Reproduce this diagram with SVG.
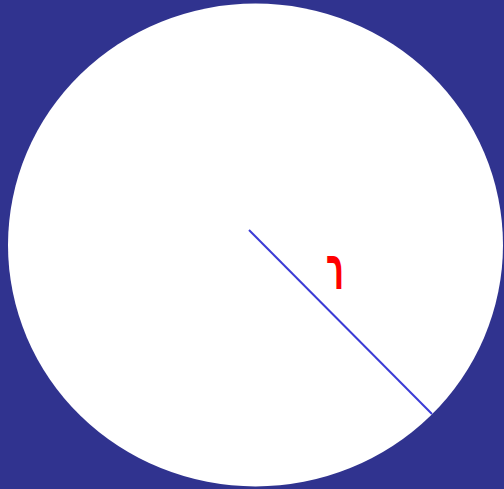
<svg xmlns="http://www.w3.org/2000/svg" width="504" height="489" viewBox="0 0 504 489">
<style>
.bg{fill:#30338f}
.disc{fill:#ffffff}
.radius{stroke:#3b3bd6;stroke-width:2;fill:none}
.lbl{fill:#ff0000;font-family:"DejaVu Sans",sans-serif;font-weight:bold;font-size:30px}
</style>
<rect class="bg" x="0" y="0" width="504" height="489"/>
<g id="circle"><ellipse class="disc" cx="255.5" cy="245" rx="247.5" ry="241.5"/></g>
<g id="connectors"><line class="radius" x1="249" y1="230" x2="432" y2="414"/></g>
<g id="label"><text class="lbl" transform="scale(1,2)" x="335" y="144.5" text-anchor="middle">ר</text></g>
</svg>
